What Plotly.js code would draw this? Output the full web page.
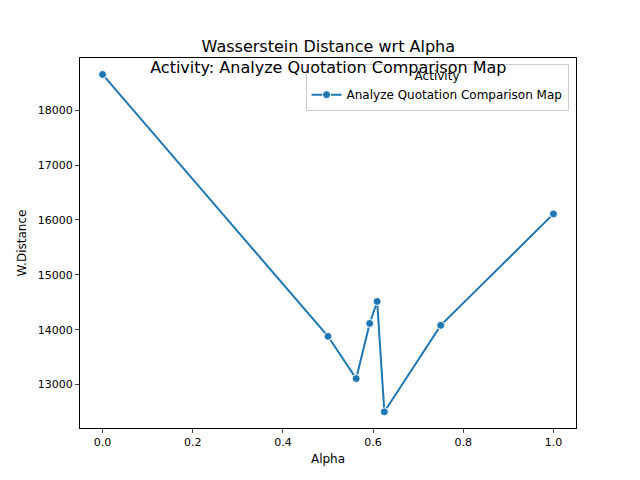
<!DOCTYPE html>
<html>
<head>
<script src="https://cdn.plot.ly/plotly-3.0.1.min.js"></script>
<style>body{margin:0}</style>
</head>
<body>
<div id="chart" style="width:640px;height:480px"></div>
<script>
// values
const alphas = [0, 0.5, 0.5625, 0.5925, 0.609, 0.625, 0.75, 1.0];
const distances = [18650, 13880, 13110, 14115, 14515, 12505, 14080, 16110];
const seriesName = 'Analyze Quotation Comparison Map';
const yTicks = [13000, 14000, 15000, 16000, 17000, 18000];
const xTicks = [0, 0.2, 0.4, 0.6, 0.8, 1.0];

const font = { family: 'DejaVu Sans', size: 12, color: '#000' };

let trace = {
  x: alphas,
  y: distances,
  type: 'scatter',
  mode: 'lines+markers',
  name: seriesName,
  line: { color: '#1f77b4', width: 2 },
  marker: { color: '#1f77b4', size: 8, line: { color: '#fff', width: 1 } }
};

let layout = {
  width: 640,
  height: 480,
  font: font,
  showlegend: true,
  title: {
    text: 'Wasserstein Distance wrt Alpha<br>Activity: Analyze Quotation Comparison Map',
    font: { family: 'DejaVu Sans', size: 16, color: '#000' },
    x: 0.513, xanchor: 'center',
    yref: 'paper', y: 1, yanchor: 'bottom',
    pad: { b: 6 }
  },
  margin: { l: 80, r: 64, t: 58, b: 52 },
  xaxis: {
    title: { text: 'Alpha', standoff: 6, font: { size: 12 } },
    range: [-0.05, 1.05],
    tickvals: xTicks,
    ticktext: xTicks.map(v => v.toFixed(1)),
    tickfont: { size: 11 },
    showgrid: false, zeroline: false,
    showline: true, mirror: true, linecolor: '#000', linewidth: 1,
    ticks: 'outside', ticklen: 4
  },
  yaxis: {
    title: { text: 'W.Distance', standoff: 8, font: { size: 12 } },
    range: [12210, 18950],
    tickvals: yTicks,
    ticktext: yTicks.map(String),
    tickfont: { size: 11 },
    showgrid: false, zeroline: false,
    showline: true, mirror: true, linecolor: '#000', linewidth: 1,
    ticks: 'outside', ticklen: 4
  },
  legend: {
    title: { text: 'Activity', side: 'top center', font: { size: 12 } },
    font: { size: 12 },
    x: 0.985, y: 0.985, xanchor: 'right', yanchor: 'top',
    bgcolor: 'rgba(255,255,255,0.8)', bordercolor: '#ccc', borderwidth: 1
  }
};

Plotly.newPlot('chart', [trace], layout, { staticPlot: true });
</script>
</body>
</html>
